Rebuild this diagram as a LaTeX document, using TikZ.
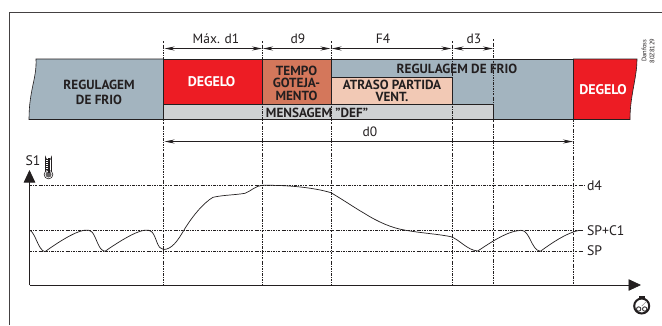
\documentclass[tikz,border=0pt]{standalone}
\usepackage{fontspec}
\setmainfont{PT Sans}
\usetikzlibrary{positioning, arrows.meta, calc}
\definecolor{inkc}{HTML}{231F20}
\definecolor{frioc}{HTML}{A3B4BF}
\definecolor{degeloc}{HTML}{ED1C24}
\definecolor{tempoc}{HTML}{D4775B}
\definecolor{atrasoc}{HTML}{F2C9B5}
\definecolor{msgc}{HTML}{CFD1D3}
\begin{document}
\begin{tikzpicture}[x=1pt, y=-1pt, node distance=0pt,%
  every node/.style={inner sep=0pt, outer sep=0pt, text=inkc},
  block/.style={draw=inkc, line width=0.6pt, anchor=north west, align=center},
  dimlabel/.style={font=\fontsize{13.5}{15}\selectfont},
  levellabel/.style={font=\fontsize{13.8}{15}\selectfont, anchor=west},
  guide/.style={inkc, line width=0.5pt, dash pattern=on 2.4pt off 1.2pt on 0.6pt off 1.2pt},
  dimarrow/.style={inkc, line width=0.7pt, {Stealth[length=10pt,width=4pt]}-{Stealth[length=10pt,width=4pt]}},
  axis/.style={inkc, line width=0.8pt, -{Triangle[length=12.5pt,width=11.5pt]}}
  ]
  \useasboundingbox (0,0) rectangle (662,325);
  \fill[white] (0,0) rectangle (662,325);
  % frame
  \coordinate (fa) at (9.5,325);
  \coordinate (fb) at (9.5,12);
  \coordinate (fc) at (662,12);
  \draw[inkc!85, line width=1pt] (fa) -- (fb) -- (fc);

  % band
  \fill[frioc] (331,59) rectangle (573.5,119.5);
  \draw[inkc, line width=0.6pt] (331,59) -- (573.5,59) (493.5,119.5) -- (573.5,119.5);
  \path[fill=frioc, draw=inkc, line width=0.6pt] (163.5,59) -- (36,59)
    .. controls (37,78) and (29,90) .. (29,119.5) -- (163.5,119.5) -- cycle;
  \path[fill=degeloc, draw=inkc, line width=0.6pt] (573.5,59) -- (637,59)
    .. controls (637,78) and (630,95) .. (630,119.5) -- (573.5,119.5) -- cycle;
  \node[block, fill=degeloc, minimum width=99pt, minimum height=45pt] (degelo1) at (163.5,59) {};
  \node[block, fill=tempoc, minimum width=68.5pt, minimum height=45pt, right=of degelo1] (tempo) {};
  \node[block, fill=msgc, minimum width=330pt, minimum height=15.5pt, below=of degelo1.south west, anchor=north west] (msg) {};
  \node[block, fill=atrasoc, minimum width=121pt, minimum height=27pt, anchor=south west] (atraso) at (tempo.south east) {};

  % band texts
  \node[font=\fontsize{13.2}{15}\selectfont\bfseries, align=center] (frio1) at (99,92) {REGULAGEM\\DE FRIO};
  \node[font=\fontsize{14}{15}\selectfont\bfseries, text=white] (deg1) at (211.5,82) {DEGELO};
  \node[font=\fontsize{13.2}{12.5}\selectfont\bfseries, align=center] (tempot) at (296.5,83) {TEMPO\\GOTEJA-\\MENTO};
  \node[font=\fontsize{13.2}{12}\selectfont\bfseries] (msgt) at (317,113) {MENSAGEM "DEF"};
  \node[font=\fontsize{13.2}{12}\selectfont\bfseries, align=center] (atrasot) at (392,91) {ATRASO PARTIDA\\VENT.};
  \node[font=\fontsize{13.2}{12}\selectfont\bfseries] (frio2) at (457,68.5) {REGULAGEM DE FRIO};
  \node[font=\fontsize{14}{15}\selectfont\bfseries, text=white] (deg2) at (603,90) {DEGELO};
  \node[font=\fontsize{6.5}{8}\selectfont, rotate=90, align=center] (code) at (648,51) {Danfoss\\80Z8129};

  % time marks
  \coordinate (origin) at (29.5,285);
  \coordinate (t1) at (163.5,41);
  \coordinate (t2) at (262.5,41);
  \coordinate (t3) at (331,41);
  \coordinate (t4) at (452,41);
  \coordinate (t5) at (493.5,39);
  \coordinate (t6) at (573.5,119.5);
  \draw[guide] (t1) -- (t1 |- origin);
  \draw[guide] (t2) -- (t2 |- origin);
  \draw[guide] (t3) -- (t3 |- origin);
  \draw[guide] (t4) -- (t4 |- origin);
  \draw[guide] (t5) -- (t5 |- origin);
  \draw[guide] (t6) -- (t6 |- origin);

  % dimensions
  \coordinate (dim) at (0,48.5);
  \coordinate (dimz) at (0,141.5);
  \draw[dimarrow] ($(t1 |- dim)+(1,0)$) -- ($(t2 |- dim)+(-0.5,0)$);
  \draw[dimarrow] ($(t2 |- dim)+(0.5,0)$) -- ($(t3 |- dim)+(-0.5,0)$);
  \draw[dimarrow] ($(t3 |- dim)+(0.5,0)$) -- ($(t4 |- dim)+(-0.5,0)$);
  \draw[dimarrow] ($(t4 |- dim)+(1.5,0)$) -- ($(t5 |- dim)+(-0.5,0)$);
  \draw[dimarrow] ($(t1 |- dimz)+(1,0)$) -- ($(t6 |- dimz)+(-0.5,0)$);
  \node[dimlabel] (dmax) at (216,39) {Máx. d1};
  \node[dimlabel] (d9) at (298,39) {d9};
  \node[dimlabel] (f4) at (383,39) {F4};
  \node[dimlabel] (d3) at (474,39) {d3};
  \node[dimlabel] (d0) at (370,132) {d0};

  % levels
  \coordinate (ld4) at (584,185.3);
  \coordinate (lc1) at (583,230.3);
  \coordinate (lsp) at (583,251);
  \draw[guide] (origin |- ld4) -- (ld4);
  \draw[guide] (origin |- lc1) -- (lc1);
  \draw[guide] (origin |- lsp) -- (lsp);
  \node[levellabel] (d4) at (587,185.3) {d4};
  \node[levellabel] (spc1) at (587,230.3) {SP+C1};
  \node[levellabel] (sp) at (587,251) {SP};

  % axes
  \coordinate (ytip) at (29.5,170);
  \coordinate (xtip) at (641,285);
  \draw[axis] (origin) -- (ytip);
  \draw[axis] (origin) -- (xtip);
  \node[font=\fontsize{13.8}{15}\selectfont] (s1) at (33,161) {S1};

  % temperature
  \draw[inkc, line width=0.7pt]
    (30,230.3) .. controls (36,234) and (38,250) .. (45,251.7)
    .. controls (57,243) and (74,232) .. (84,230.3)
    .. controls (88,230) and (90,230) .. (92,232)
    .. controls (97,238) and (98,250) .. (105,251.3)
    .. controls (117,243) and (134,232) .. (144,230.3)
    .. controls (148,230) and (150,230) .. (152,232)
    .. controls (157,238) and (157,249) .. (163.5,249.5)
    .. controls (172,249.5) and (178,240) .. (183,231.7)
    .. controls (191,218) and (203,203) .. (213,197.3)
    .. controls (223,195) and (235,195) .. (245,193.3)
    .. controls (251,191) and (256,185.5) .. (262.5,185.3)
    .. controls (285,185) and (312,187) .. (331,192.7)
    .. controls (345,201) and (355,208) .. (364.3,213.3)
    .. controls (378,222) and (392,228) .. (404.3,230)
    .. controls (420,233) and (438,234) .. (451,236.7)
    .. controls (460,240) and (467,250) .. (477.7,251)
    .. controls (490,243) and (507,231) .. (521,230.3)
    .. controls (530,230) and (531,250) .. (540.3,251.3)
    .. controls (552,243) and (566,233) .. (579.3,230.3);

  % thermometer
  \draw[inkc, line width=0.6pt, fill=white] (45.5,172.5) -- (45.5,157)
    arc[start angle=180, end angle=0, radius=3] -- (51.5,172.5);
  \draw[inkc, line width=0.6pt, fill=white] (48.5,174.5) circle[radius=4.4];
  \fill[inkc!70] (48.5,174.5) circle[radius=3];
  \draw[inkc, line width=1.4pt] (48.8,173) -- (48.8,158);
  \draw[inkc, line width=0.35pt] (45.5,159) -- (48,159) (45.5,161) -- (48,161) (45.5,163) -- (48,163)
    (45.5,165) -- (48,165) (45.5,167) -- (48,167) (45.5,169) -- (48,169);

  % stopwatch
  \fill[inkc] (639,295.5) rectangle (644.5,297.5);
  \fill[inkc] (640.7,297) rectangle (642.7,299.5);
  \draw[inkc, line width=2pt, fill=white] (641.7,306) circle[radius=7.5];
  \draw[inkc, line width=0.8pt] (638.7,309) circle[radius=2.2];
  \draw[inkc, line width=0.8pt] (644.7,309) circle[radius=2.2];
  \draw[inkc!60, line width=0.4pt] (641.7,306) -- (646.5,301.5);
\end{tikzpicture}
\end{document}
